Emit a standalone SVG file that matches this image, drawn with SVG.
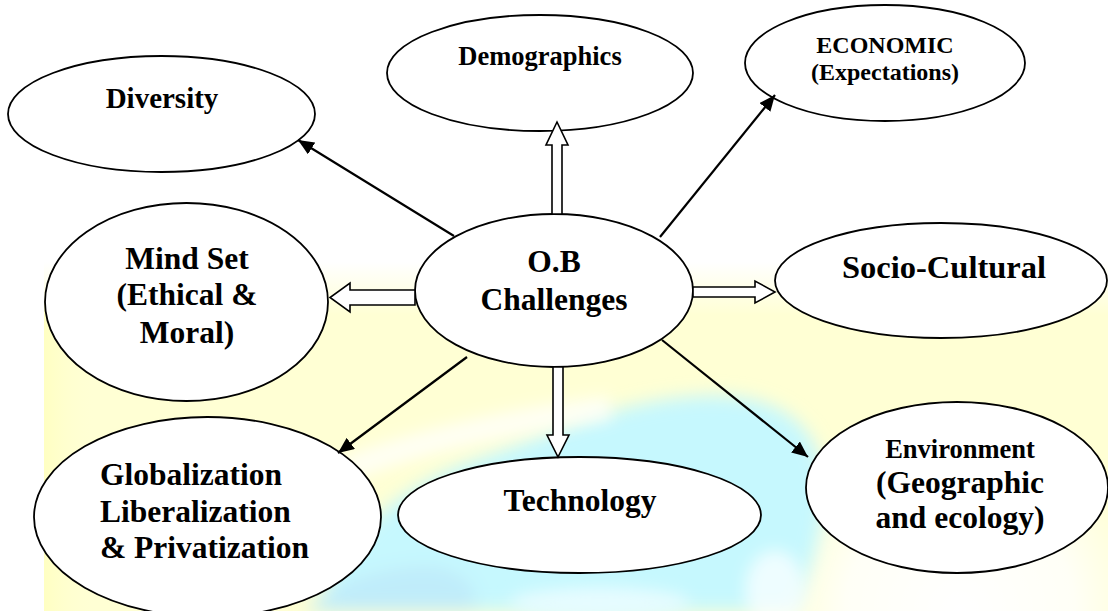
<svg xmlns="http://www.w3.org/2000/svg" width="1108" height="611" viewBox="0 0 1108 611">
  <style>
    .node ellipse { fill: #ffffff; stroke: #000000; stroke-width: 1.8; }
    .node text { font-weight: bold; fill: #000000; }
    .mid { text-anchor: middle; }
    .link { stroke: #000000; stroke-width: 2.2; fill: none; marker-end: url(#tip); }
    .block { fill: #ffffff; stroke: #000000; stroke-width: 1.6; stroke-linejoin: miter; }
  </style>
  <defs>
    <marker id="tip" markerUnits="userSpaceOnUse" markerWidth="18" markerHeight="14" refX="16" refY="7" orient="auto">
      <path d="M0,0 L16,7 L0,14 Z" fill="#000000"/>
    </marker>
    <linearGradient id="yellowFade" gradientUnits="userSpaceOnUse" x1="0" y1="262" x2="0" y2="315">
      <stop offset="0" stop-color="#ffffff"/>
      <stop offset="1" stop-color="#ffffd4"/>
    </linearGradient>
    <linearGradient id="edgeGlow" gradientUnits="userSpaceOnUse" x1="44" y1="0" x2="95" y2="0">
      <stop offset="0" stop-color="#ffffc2"/>
      <stop offset="1" stop-color="#ffffd4" stop-opacity="0"/>
    </linearGradient>
    <radialGradient id="paleCorner" gradientUnits="userSpaceOnUse" cx="960" cy="611" r="190">
      <stop offset="0" stop-color="#ffffff"/>
      <stop offset="0.6" stop-color="#ffffff" stop-opacity="0.8"/>
      <stop offset="1" stop-color="#ffffff" stop-opacity="0"/>
    </radialGradient>
    <filter id="soft" x="-20%" y="-20%" width="140%" height="140%">
      <feGaussianBlur stdDeviation="9"/>
    </filter>
    <filter id="softer" x="-20%" y="-20%" width="140%" height="140%">
      <feGaussianBlur stdDeviation="8"/>
    </filter>
  </defs>

  <!-- backdrop -->
  <g id="backdrop">
    <rect x="0" y="0" width="1108" height="611" fill="#ffffff"/>
    <rect x="44" y="262" width="1064" height="349" fill="url(#yellowFade)"/>
    <rect x="44" y="300" width="52" height="311" fill="url(#edgeGlow)"/>
    <rect x="780" y="430" width="328" height="181" fill="url(#paleCorner)"/>
    <g filter="url(#soft)">
      <path d="M318,611 C335,545 395,488 475,460 C555,432 620,400 700,396 C770,392 815,420 822,470 C830,530 805,580 795,611 Z" fill="#c6f8fe"/>
      <path d="M305,611 C330,585 370,570 420,566 C470,565 480,595 475,611 Z" fill="#c0ecfa"/>
    </g>
    <g filter="url(#softer)">
      <path d="M345,470 C420,440 520,420 610,408" stroke="#ffffff" stroke-width="24" fill="none" stroke-opacity="0.75"/>
      <ellipse cx="600" cy="603" rx="90" ry="16" fill="#e6fcff"/>
      <ellipse cx="775" cy="590" rx="30" ry="40" fill="#ffffff" fill-opacity="0.7"/>
    </g>
  </g>

  <!-- nodes -->
  <g font-family="'Liberation Serif', 'Times New Roman', Times, serif">
    <g id="node-diversity" class="node">
      <ellipse cx="161.5" cy="114" rx="153.5" ry="58"/>
      <text class="mid" x="162" y="108" font-size="29">Diversity</text>
    </g>
    <g id="node-demographics" class="node">
      <ellipse cx="540" cy="73" rx="153" ry="58"/>
      <text class="mid" x="540" y="65" font-size="26.5">Demographics</text>
    </g>
    <g id="node-economic" class="node">
      <ellipse cx="885" cy="63" rx="140" ry="58"/>
      <text class="mid" x="885" y="53" font-size="24">ECONOMIC</text>
      <text class="mid" x="885" y="80" font-size="24">(Expectations)</text>
    </g>
    <g id="node-mindset" class="node">
      <ellipse cx="186.5" cy="302" rx="141.5" ry="99"/>
      <text class="mid" x="187" y="269" font-size="31.5">Mind Set</text>
      <text class="mid" x="187" y="305" font-size="31.5">(Ethical &amp;</text>
      <text class="mid" x="187" y="343" font-size="31.5">Moral)</text>
    </g>
    <g id="node-ob" class="node">
      <ellipse cx="554" cy="290.5" rx="139" ry="76.5"/>
      <text class="mid" x="554" y="272" font-size="31.5">O.B</text>
      <text class="mid" x="554" y="310" font-size="31.5">Challenges</text>
    </g>
    <g id="node-sociocultural" class="node">
      <ellipse cx="941" cy="280.5" rx="166" ry="57.5"/>
      <text class="mid" x="944" y="278" font-size="32.5">Socio-Cultural</text>
    </g>
    <g id="node-globalization" class="node">
      <ellipse cx="207.5" cy="517" rx="173.5" ry="100"/>
      <text x="100" y="485" font-size="31.5">Globalization</text>
      <text x="100" y="522" font-size="31.5">Liberalization</text>
      <text x="100" y="558" font-size="31.5">&amp; Privatization</text>
    </g>
    <g id="node-technology" class="node">
      <ellipse cx="579.5" cy="515" rx="181.5" ry="58"/>
      <text class="mid" x="580" y="511" font-size="31.5">Technology</text>
    </g>
    <g id="node-environment" class="node">
      <ellipse cx="957" cy="487.5" rx="151" ry="85.5"/>
      <text class="mid" x="960" y="458" font-size="26.5">Environment</text>
      <text class="mid" x="960" y="493" font-size="31.5">(Geographic</text>
      <text class="mid" x="960" y="528" font-size="31.5">and ecology)</text>
    </g>
  </g>

  <!-- connectors from the centre -->
  <g id="connectors">
    <line class="link" x1="454" y1="236" x2="298" y2="140"/>
    <line class="link" x1="660" y1="237" x2="775" y2="95"/>
    <line class="link" x1="467" y1="357" x2="338" y2="453"/>
    <line class="link" x1="662" y1="340" x2="808" y2="457"/>
    <!-- block arrows -->
    <polygon class="block" points="552,214 552,145 546,145 557,122 568,145 562,145 562,214"/>
    <polygon class="block" points="553,367 553,435 547,435 558,457 569,435 563,435 563,367"/>
    <polygon class="block" points="415,290 350,290 350,283 330,297.5 350,312 350,305 415,305"/>
    <polygon class="block" points="693,287 755,287 755,281 775,292 755,303 755,297 693,297"/>
  </g>
</svg>
